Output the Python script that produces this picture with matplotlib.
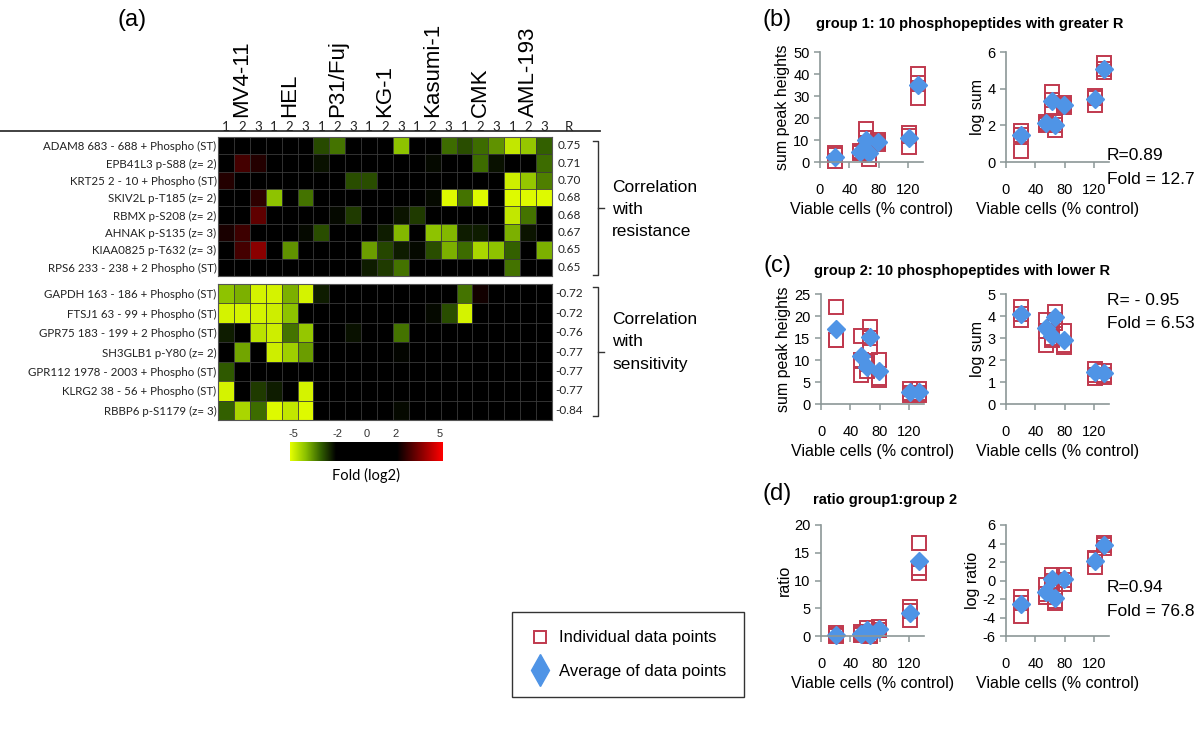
import numpy as np
import matplotlib
matplotlib.use('Agg')
import matplotlib.pyplot as plt
from matplotlib.colors import LinearSegmentedColormap

plt.rcParams['font.family'] = ['Liberation Sans', 'DejaVu Sans']
plt.rcParams['axes.unicode_minus'] = False

W, H = 1200, 731

# ---- (a) heatmap data ----
cell_lines = ['MV4-11', 'HEL', 'P31/Fuj', 'KG-1', 'Kasumi-1', 'CMK', 'AML-193']
replicates = ['1', '2', '3']

resist_peptides = ['ADAM8 683 - 688 + Phospho (ST)', 'EPB41L3 p-S88 (z= 2)',
                   'KRT25 2 - 10 + Phospho (ST)', 'SKIV2L p-T185 (z= 2)',
                   'RBMX p-S208 (z= 2)', 'AHNAK p-S135 (z= 3)',
                   'KIAA0825 p-T632 (z= 3)', 'RPS6 233 - 238 + 2 Phospho (ST)']
resist_r = [0.75, 0.71, 0.70, 0.68, 0.68, 0.67, 0.65, 0.65]
resist_fold = np.array([
    [0, 0, 0, 0, 0, 0, -2.75, -3.2, 0, 0, 0, -4.0, 0, 0, -3.1, -2.8, -3.1, -3.5, -4.6, -4.1, -3.0],
    [0, 2.8, 2.4, 0, 0, 0, -2.15, 0, 0, 0, 0, 0, 0, -2.1, 0, 0, -3.1, -2.15, 0, 0, -3.1],
    [2.4, 0, 0, 0, 0, 0, 0, 0, -2.8, -2.8, 0, 0, 0, 0, 0, 0, 0, 0, -4.7, -4.1, -3.3],
    [0, 0, 2.5, -4.0, 0, -3.2, 0, 0, 0, 0, 0, 0, 0, -2.1, -4.9, -3.2, -4.9, 0, -4.9, -4.9, -4.9],
    [0, 0, 3.1, 0, 0, 0, 0, -2.1, -2.6, 0, 0, -2.2, -2.6, 0, 0, 0, 0, 0, -4.6, -3.2, 0],
    [2.3, 2.7, 0, 0, 0, -2.1, -2.8, 0, 0, 0, -2.3, -3.9, 0, -4.0, -3.9, -2.3, -2.3, 0, -3.8, -2.2, 0],
    [0, 2.8, 3.6, 0, -3.5, 0, 0, 0, 0, -3.6, -2.7, -2.3, -2.1, -2.8, -3.8, -3.1, -4.3, -4.0, -3.0, 0, -3.8],
    [0, 0, 0, 0, 0, 0, 0, 0, 0, -2.3, -2.6, -3.2, 0, 0, 0, 0, 0, 0, -3.2, 0, 0],
])

sens_peptides = ['GAPDH 163 - 186 + Phospho (ST)', 'FTSJ1 63 - 99 + Phospho (ST)',
                 'GPR75 183 - 199 + 2 Phospho (ST)', 'SH3GLB1 p-Y80 (z= 2)',
                 'GPR112 1978 - 2003 + Phospho (ST)', 'KLRG2 38 - 56 + Phospho (ST)',
                 'RBBP6 p-S1179 (z= 3)']
sens_r = [-0.72, -0.72, -0.76, -0.77, -0.77, -0.77, -0.84]
sens_fold = np.array([
    [-4.0, -3.8, -4.8, -4.8, -3.8, -4.8, -2.3, 0, 0, 0, 0, 0, 0, 0, 0, -3.2, 2.2, 0, 0, 0, 0],
    [-4.8, -4.8, -4.8, -4.7, -4.0, 0, 0, 0, 0, 0, 0, 0, 0, -2.1, -2.8, -4.8, 0, 0, 0, 0, 0],
    [-2.3, 0, -4.5, -4.7, -3.2, -4.1, 0, 0, -2.15, 0, 0, -3.2, 0, 0, 0, 0, 0, 0, 0, 0, 0],
    [0, -3.7, 0, -4.7, -4.2, -3.6, 0, 0, 0, 0, 0, -2.05, 0, 0, 0, 0, 0, 0, 0, 0, 0],
    [-2.9, 0, 0, 0, 0, 0, 0, 0, 0, 0, 0, 0, 0, 0, 0, 0, 0, 0, 0, 0, 0],
    [-4.8, 0, -2.6, -2.3, 0, -4.8, 0, 0, 0, 0, 0, 0, 0, 0, 0, 0, 0, 0, 0, 0, 0],
    [-3.0, -4.3, -3.1, -4.9, -4.6, -4.9, 0, 0, 0, 0, 0, -2.1, 0, 0, 0, 0, 0, 0, 0, 0, 0],
])
colorbar_ticks = [-5, -2, 0, 2, 5]

# ---- (b)-(d) scatter data ----
viability = [20, 54, 63, 66, 79, 121, 133]

g1_sum_ind = [[4, 0.5, 3], [5, 4, 4.5], [15, 11, 5], [3, 1.5, 7.5], [10, 8, 9], [13, 7, 12], [40, 36, 29]]
g1_sum_avg = [2.5, 4.5, 10, 4, 9, 11, 35]
g1_log_ind = [[1.7, 1.5, 0.6], [2.2, 2.0, 2.1], [3.8, 3.4, 3.0], [2.2, 1.75, 2.0], [3.2, 3.0, 3.1], [3.6, 3.1, 3.5], [5.4, 5.1, 4.9]]
g1_log_avg = [1.45, 2.15, 3.35, 2.0, 3.1, 3.45, 5.1]

g2_sum_ind = [[22, 14.5, 14.5], [15.5, 10, 6.5], [9, 7.5, 9.5], [17.5, 15, 13], [10, 6, 5.5], [3.5, 2, 2.5], [3.5, 2, 2.5]]
g2_sum_avg = [17, 11, 8.5, 15.3, 7.5, 2.8, 2.8]
g2_log_ind = [[4.4, 3.8, 4.1], [3.8, 3.3, 2.7], [3.3, 3.0, 2.9], [4.2, 3.8, 3.7], [3.3, 2.7, 2.6], [1.6, 1.3, 1.2], [1.5, 1.25, 1.3]]
g2_log_avg = [4.1, 3.45, 3.1, 3.95, 2.9, 1.45, 1.4]

ratio_ind = [[0.5, 0.1, 0.0], [0.8, 0.3, 0.2], [1.5, 0.8, 0.6], [0.2, 0.0, 0.1], [1.6, 1.0, 1.1], [5.2, 4.5, 2.8], [16.8, 12.3, 11.4]]
ratio_avg = [0.2, 0.4, 1.0, 0.1, 1.2, 4.1, 13.5]
logratio_ind = [[-1.8, -3.8, -2.4], [-0.5, -1.5, -1.8], [0.6, 0.0, -0.3], [-1.0, -2.2, -2.4], [0.6, 0.1, -0.4], [2.3, 1.5, 2.4], [4.1, 3.5, 3.8]]
logratio_avg = [-2.5, -1.2, 0.2, -1.9, 0.2, 2.1, 3.8]

fold_cmap = LinearSegmentedColormap.from_list('fold', [
    (0.0, (0.9, 1.0, 0.0)), (0.1, (0.55, 0.76, 0.0)), (0.2, (0.2, 0.38, 0.0)),
    (0.3, (0, 0, 0)), (0.7, (0, 0, 0)), (1.0, (1.0, 0, 0))])
sq_color = '#c0394e'
dia_color = '#4f94e6'
axis_color = '#8c9797'

fig = plt.figure(figsize=(W / 100, H / 100), dpi=100)


def add_px_axes(x0, y0, x1, y1):
    return fig.add_axes([x0 / W, 1 - y1 / H, (x1 - x0) / W, (y1 - y0) / H])


def ftext(x, y, s, **kw):
    fig.text(x / W, 1 - y / H, s, **kw)


# overlay for decorations (lines, brackets)
ov = fig.add_axes([0, 0, 1, 1])
ov.set_xlim(0, W)
ov.set_ylim(H, 0)
ov.axis('off')
ov.plot([0, 600], [131, 131], color='#333333', lw=1.3)
for y0, y1 in [(141, 275), (287, 416)]:
    ym = (y0 + y1) / 2
    ov.plot([593, 598, 598, 593], [y0, y0, y1, y1], color='#333333', lw=1)
    ov.plot([598, 604], [ym, ym], color='#333333', lw=1)


def draw_heat(box, data, labels, rvals, top=False):
    ax = add_px_axes(*box)
    nr, nc = data.shape
    ax.imshow(data, cmap=fold_cmap, vmin=-5, vmax=5, aspect='auto', interpolation='nearest')
    ax.set_yticks(range(nr))
    ax.set_yticklabels(labels, fontsize=8.3, family='Lato', color='#222222')
    ax.set_xticks(np.arange(nc + 1) - 0.5, minor=True)
    ax.set_yticks(np.arange(nr + 1) - 0.5, minor=True)
    ax.grid(which='minor', color='#3a3a3a', lw=0.6)
    ax.tick_params(which='both', length=0)
    ax.tick_params(axis='y', pad=1)
    for s in ax.spines.values():
        s.set_color('#555555')
        s.set_linewidth(0.8)
    if top:
        ax.xaxis.tick_top()
        ax.set_xticks(range(nc))
        ax.set_xticklabels(replicates * len(cell_lines), fontsize=9.5, family='Lato', color='#222222')
        ax.tick_params(axis='x', pad=3)
        hpx = box[3] - box[1]
        for k, name in enumerate(cell_lines):
            ax.text(3 * k + 1, 1 + 20 / hpx, name, transform=ax.get_xaxis_transform(),
                    rotation=90, ha='center', va='bottom', fontsize=16)
        ax.text(1.051, 1 + 10 / hpx, 'R', transform=ax.transAxes, ha='center', va='center',
                fontsize=9.5, family='Lato', color='#222222')
    else:
        ax.set_xticks([])
    for i, r in enumerate(rvals):
        ax.text(1.051, i, f'{r:.2f}', transform=ax.get_yaxis_transform(), ha='center',
                va='center', fontsize=8.5, family='Lato', color='#222222')
    return ax


draw_heat((218, 137, 552, 276), resist_fold, resist_peptides, resist_r, top=True)
draw_heat((218, 284, 552, 420), sens_fold, sens_peptides, sens_r)

# colour key
cax = add_px_axes(290, 442, 443, 461)
cax.imshow(np.linspace(-5, 5, 256)[None, :], cmap=fold_cmap, vmin=-5, vmax=5,
           aspect='auto', extent=(-5.2, 5.2, 0, 1))
cax.set_xlim(-5.2, 5.2)
cax.xaxis.tick_top()
cax.set_xticks(colorbar_ticks)
cax.set_xticklabels([str(t) for t in colorbar_ticks], fontsize=8, color='#333333')
cax.tick_params(length=0, pad=2)
cax.set_yticks([])
for s in cax.spines.values():
    s.set_visible(False)
ftext(366, 475, 'Fold (log2)', ha='center', va='center', fontsize=10.5, family='Lato')

ftext(132, 20, '(a)', ha='center', va='center', fontsize=17)

ftext(612, 187, 'Correlation', va='center', fontsize=12.5)
ftext(612, 209, 'with', va='center', fontsize=12.5)
ftext(612, 232, 'resistance', va='center', fontsize=12.5)
ftext(612, 320, 'Correlation', va='center', fontsize=12.5)
ftext(612, 342, 'with', va='center', fontsize=12.5)
ftext(612, 365, 'sensitivity', va='center', fontsize=12.5)


def draw_scatter(box, ind, avg, ylim, yticks, ylabel):
    ax = add_px_axes(*box)
    xs = np.repeat(viability, 3)
    ys = np.array(ind).ravel()
    ax.plot(xs, ys, ls='none', marker='s', ms=10.5, mfc='none', mec=sq_color, mew=1.4, clip_on=False)
    ax.plot(viability, avg, ls='none', marker='D', ms=9, color=dia_color, clip_on=False)
    ax.set_xlim(0, 140)
    ax.set_ylim(*ylim)
    ax.set_xticks([0, 40, 80, 120])
    ax.set_yticks(yticks)
    for s in ['top', 'right']:
        ax.spines[s].set_visible(False)
    for s in ['left', 'bottom']:
        ax.spines[s].set_color(axis_color)
        ax.spines[s].set_linewidth(1.2)
    ax.tick_params(color=axis_color, length=4, width=1.1, labelsize=10.5)
    ax.tick_params(axis='x', pad=11)
    ax.set_xlabel('Viable cells (% control)', fontsize=11.5, labelpad=4)
    ax.set_ylabel(ylabel, fontsize=11.5, labelpad=2)
    return ax


draw_scatter((820, 52, 923, 162), g1_sum_ind, g1_sum_avg, (0, 50), range(0, 51, 10), 'sum peak heights')
draw_scatter((1006, 52, 1109, 162), g1_log_ind, g1_log_avg, (0, 6), [0, 2, 4, 6], 'log sum')
draw_scatter((821, 294, 924, 404), g2_sum_ind, g2_sum_avg, (0, 25), range(0, 26, 5), 'sum peak heights')
draw_scatter((1006, 294, 1109, 404), g2_log_ind, g2_log_avg, (0, 5), range(0, 6), 'log sum')
axd = draw_scatter((821, 525, 924, 636), ratio_ind, ratio_avg, (0, 20), range(0, 21, 5), 'ratio')
draw_scatter((1006, 525, 1109, 636), logratio_ind, logratio_avg, (-6, 6), range(-6, 7, 2), 'log ratio')

ftext(777, 20, '(b)', ha='center', va='center', fontsize=17)
ftext(970, 24, 'group 1: 10 phosphopeptides with greater R', ha='center', va='center',
      fontsize=10.5, fontweight='bold')
ftext(777, 266, '(c)', ha='center', va='center', fontsize=17)
ftext(962, 271, 'group 2: 10 phosphopeptides with lower R', ha='center', va='center',
      fontsize=10.5, fontweight='bold')
ftext(777, 494, '(d)', ha='center', va='center', fontsize=17)
ftext(885, 500, 'ratio group1:group 2', ha='center', va='center', fontsize=10.5, fontweight='bold')

for y, s in [(155, 'R=0.89'), (180, 'Fold = 12.7'), (300, 'R= - 0.95'), (323, 'Fold = 6.53'),
             (588, 'R=0.94'), (612, 'Fold = 76.8')]:
    ftext(1107, y, s, va='center', fontsize=12.5)

# legend
h_sq, = axd.plot([], [], ls='none', marker='s', ms=9, mfc='none', mec=sq_color, mew=1.4)
h_di, = axd.plot([], [], ls='none', marker='d', ms=16, color=dia_color)
leg = fig.legend([h_sq, h_di], ['Individual data points', 'Average of data points'],
                 loc='upper left', bbox_to_anchor=(512 / W, 1 - 612 / H), fontsize=12,
                 frameon=True, fancybox=False, edgecolor='black', labelspacing=1.1,
                 borderpad=1.1, handletextpad=0.5, handlelength=1.2, borderaxespad=0)
leg.get_frame().set_linewidth(1.0)

fig.savefig('out.png', dpi=100)
